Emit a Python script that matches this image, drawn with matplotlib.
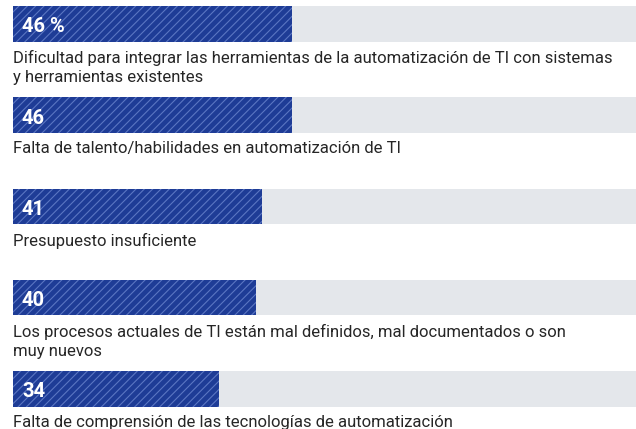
import matplotlib
matplotlib.use("Agg")
import matplotlib.pyplot as plt

# datos del gráfico
valores = [46, 46, 41, 40, 34]
etiquetas_valor = ["46 %", "46", "41", "40", "34"]
categorias = [
    "Dificultad para integrar las herramientas de la automatización de TI con sistemas\ny herramientas existentes",
    "Falta de talento/habilidades en automatización de TI",
    "Presupuesto insuficiente",
    "Los procesos actuales de TI están mal definidos, mal documentados o son\nmuy nuevos",
    "Falta de comprensión de las tecnologías de automatización",
]

plt.rcParams["font.family"] = ["Roboto", "DejaVu Sans"]
plt.rcParams["hatch.linewidth"] = 0.8

W, H = 636, 429
fig = plt.figure(figsize=(W / 100, H / 100), dpi=100)
x0 = 13
ax = fig.add_axes([x0 / W, 0, 1 - x0 / W, 1])
escala = 6.07  # px por punto porcentual
xmax = (W - x0) / escala
ax.set_xlim(0, xmax)
ax.set_ylim(H, 0)
ax.axis("off")

paso = 91.2
alto = 35.5
for i, (v, lab, cat) in enumerate(zip(valores, etiquetas_valor, categorias)):
    yc = 24 + i * paso
    ax.barh(yc, xmax, height=alto, color="#e4e7eb", linewidth=0)
    ax.barh(yc, v, height=alto, color="#1e3c96", hatch="////", edgecolor="#5a76c2", linewidth=0)
    ax.text(9 / escala, yc + 8.5, lab, color="white", fontsize=14.5, fontweight="bold",
            va="baseline", ha="left")
    ax.text(0, yc + alto / 2 + 8.5, cat, color="#262626", fontsize=12, va="top", ha="left",
            linespacing=1.35)

fig.savefig("out.png", dpi=100)
